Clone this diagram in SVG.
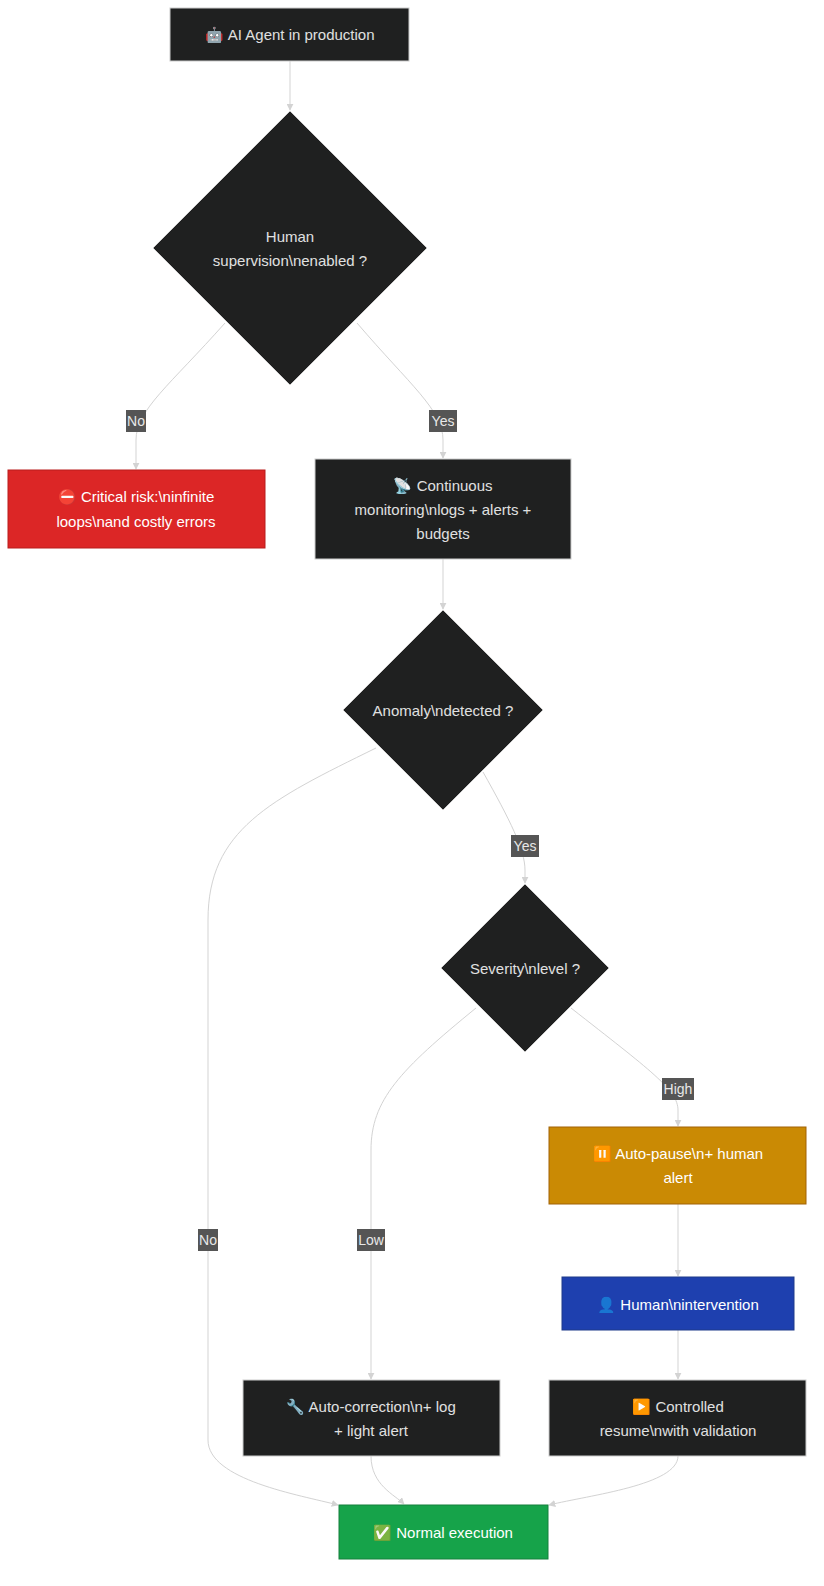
<svg xmlns="http://www.w3.org/2000/svg" width="824" height="1586" viewBox="0 0 824 1586">
<style>
text{font-family:"Liberation Sans","Noto Sans",sans-serif;font-size:15px;text-anchor:middle;dominant-baseline:central}
.dk{fill:#1f2020;stroke:#cccccc;stroke-width:1}
.t{fill:#e0e0e0}
.w{fill:#ffffff}
.e{fill:none;stroke:#d3d3d3;stroke-width:1}
.lb{fill:#555555}
.lt{fill:#e8e8e8;font-size:14px}
</style>
<defs><marker id="ar" viewBox="0 0 10 10" refX="9" refY="5" markerWidth="7" markerHeight="7" orient="auto"><path d="M0,0L10,5L0,10z" fill="#d3d3d3"/></marker></defs>
<rect width="824" height="1586" fill="#ffffff"/>
<g id="edges">
<path class="e" marker-end="url(#ar)" d="M290,61V110"/>
<path class="e" marker-end="url(#ar)" d="M225,323C170,385 136,410 136,440V469"/>
<path class="e" marker-end="url(#ar)" d="M357,323C410,385 443,410 443,440V458"/>
<path class="e" marker-end="url(#ar)" d="M443,559V609"/>
<path class="e" marker-end="url(#ar)" d="M376,748C270,800 208,830 208,920V1440C208,1480 300,1495 338,1505"/>
<path class="e" marker-end="url(#ar)" d="M483,772C510,820 525,850 525,870V883"/>
<path class="e" marker-end="url(#ar)" d="M476,1008C400,1070 371,1100 371,1150V1379"/>
<path class="e" marker-end="url(#ar)" d="M571,1008C650,1070 678,1090 678,1110V1126"/>
<path class="e" marker-end="url(#ar)" d="M678,1204V1276"/>
<path class="e" marker-end="url(#ar)" d="M678,1330V1379"/>
<path class="e" marker-end="url(#ar)" d="M371,1456C371,1485 395,1495 404,1504"/>
<path class="e" marker-end="url(#ar)" d="M678,1456C678,1485 590,1495 549,1505"/>
<rect class="lb" x="126" y="410" width="20" height="22"/><text class="lt" x="136" y="421">No</text>
<rect class="lb" x="429" y="410" width="28" height="22"/><text class="lt" x="443" y="421">Yes</text>
<rect class="lb" x="511" y="835" width="28" height="22"/><text class="lt" x="525" y="846">Yes</text>
<rect class="lb" x="198" y="1229" width="20" height="22"/><text class="lt" x="208" y="1240">No</text>
<rect class="lb" x="357" y="1229" width="28" height="22"/><text class="lt" x="371" y="1240">Low</text>
<rect class="lb" x="662" y="1078" width="32" height="22"/><text class="lt" x="678" y="1089">High</text>
</g>
<g id="A"><rect class="dk" x="170" y="8" width="239" height="53"/><text class="t" x="290" y="34">🤖 AI Agent in production</text></g>
<g id="B"><polygon class="dk" points="290,111 427,248 290,385 153,248"/><text class="t" x="290" y="236">Human</text><text class="t" x="290" y="260">supervision\nenabled ?</text></g>
<g id="C"><rect x="8" y="470" width="257" height="78" fill="#dc2626" stroke="#b91c1c"/><text class="w" x="136" y="496">⛔ Critical risk:\ninfinite</text><text class="w" x="136" y="521">loops\nand costly errors</text></g>
<g id="D"><rect class="dk" x="315" y="459" width="256" height="100"/><text class="t" x="443" y="485">📡 Continuous</text><text class="t" x="443" y="509">monitoring\nlogs + alerts +</text><text class="t" x="443" y="533">budgets</text></g>
<g id="E"><polygon class="dk" points="443,610 543,710 443,810 343,710"/><text class="t" x="443" y="710">Anomaly\ndetected ?</text></g>
<g id="F"><polygon class="dk" points="525,884 609,968 525,1052 441,968"/><text class="t" x="525" y="968">Severity\nlevel ?</text></g>
<g id="G"><rect x="549" y="1127" width="257" height="77" fill="#ca8a04" stroke="#a16207"/><text class="w" x="678" y="1153">⏸️ Auto-pause\n+ human</text><text class="w" x="678" y="1177">alert</text></g>
<g id="H"><rect x="562" y="1277" width="232" height="53" fill="#1e40af" stroke="#1e3a8a"/><text class="w" x="678" y="1304">👤 Human\nintervention</text></g>
<g id="I"><rect class="dk" x="549" y="1380" width="257" height="76"/><text class="t" x="678" y="1406">▶️ Controlled</text><text class="t" x="678" y="1430">resume\nwith validation</text></g>
<g id="J"><rect class="dk" x="243" y="1380" width="257" height="76"/><text class="t" x="371" y="1406">🔧 Auto-correction\n+ log</text><text class="t" x="371" y="1430">+ light alert</text></g>
<g id="K"><rect x="339" y="1505" width="209" height="54" fill="#16a34a" stroke="#15803d"/><text class="w" x="443" y="1532">✅ Normal execution</text></g>
</svg>
